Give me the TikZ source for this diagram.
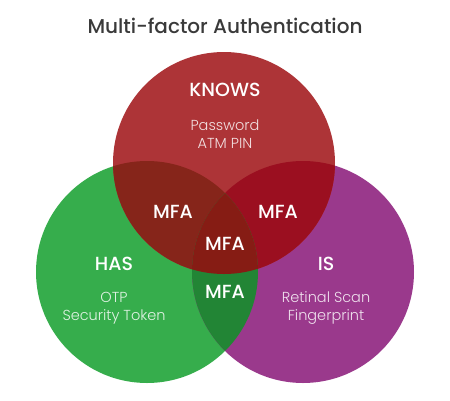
\documentclass[tikz,border=0pt]{standalone}
\usepackage{fontspec}
\setmainfont{Poppins}
\newfontfamily\poppinsmed{Poppins Medium}
\newfontfamily\poppinslight{Poppins Light}
\usepackage{tikz}
\definecolor{knowsred}{HTML}{AD3437}
\definecolor{hasgreen}{HTML}{36AD4C}
\definecolor{ispurple}{HTML}{9A398C}
\definecolor{redgreen}{HTML}{86251A}
\definecolor{redpurple}{HTML}{9B0F20}
\definecolor{greenpurple}{HTML}{228535}
\definecolor{allthree}{HTML}{861C14}
\definecolor{titlegray}{HTML}{3A3A3A}

\begin{document}
\begin{tikzpicture}[x=1pt,y=-1pt,
        head/.style={text=white,font=\poppinsmed\fontsize{19}{19}\selectfont},
        item/.style={text=white,text opacity=0.85,align=center,font=\poppinslight\fontsize{14.5}{18}\selectfont},
        mfa/.style={text=white,font=\poppinsmed\fontsize{19}{19}\selectfont}]
                \useasboundingbox (0,0) rectangle (450,400);
                \coordinate (knows) at (224,163);
                \coordinate (has) at (147,272);
                \coordinate (is) at (303,272);
                % the three circles
                \fill[hasgreen] (has) circle[radius=111];
                \fill[ispurple] (is) circle[radius=111];
                \fill[knowsred] (knows) circle[radius=111];
                % the overlaps
                \begin{scope}
                    \clip (knows) circle[radius=111];
                    \fill[redgreen] (has) circle[radius=111];
                    \fill[redpurple] (is) circle[radius=111];
                \end{scope}
                \begin{scope}
                    \clip (has) circle[radius=111];
                    \fill[greenpurple] (is) circle[radius=111];
                    \clip (is) circle[radius=111];
                    \fill[allthree] (knows) circle[radius=111];
                \end{scope}
                % texts
                \node[text=titlegray,font=\poppinsmed\fontsize{20}{20}\selectfont] (title) at (225,26) {Multi-factor Authentication};
                \node[head] (knowshead) at (225,90) {KNOWS};
                \node[item] (knowsitem) at (225,134) {Password\\ATM PIN};
                \node[head] (hashead) at (114,264) {HAS};
                \node[item] (hasitem) at (114,308) {OTP\\Security Token};
                \node[head] (ishead) at (326,264) {IS};
                \node[item] (isitem) at (326,308) {Retinal Scan\\Fingerprint};
                \node[mfa] (mfaleft) at (173,212) {MFA};
                \node[mfa] (mfaright) at (278,212) {MFA};
                \node[mfa] (mfacenter) at (225,244) {MFA};
                \node[mfa] (mfabottom) at (225,292) {MFA};
            \end{tikzpicture}
\end{document}
